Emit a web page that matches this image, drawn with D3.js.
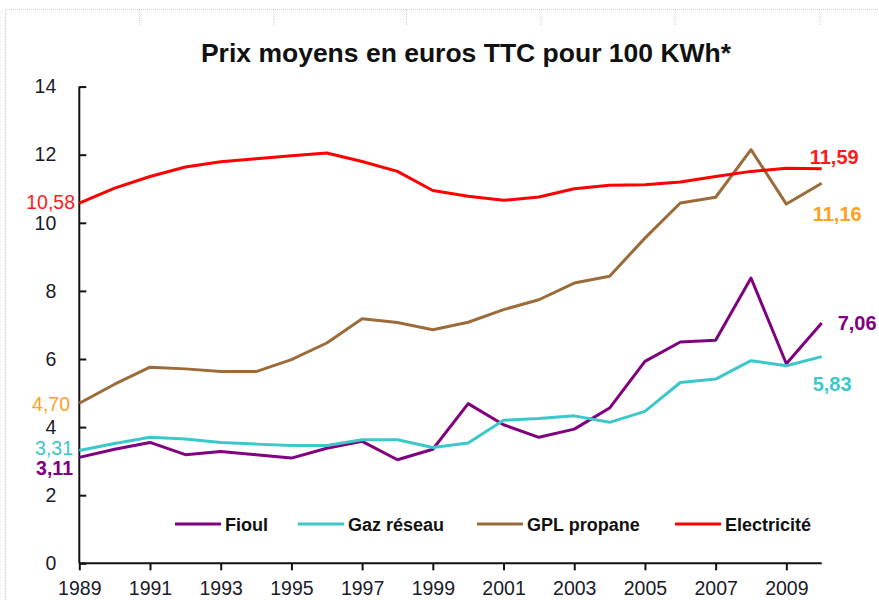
<!DOCTYPE html>
<html>
<head>
<meta charset="utf-8">
<script src="https://cdn.jsdelivr.net/npm/d3@7"></script>
<style>
  html, body { margin: 0; padding: 0; background: #fff; }
  svg { display: block; font-family: "Liberation Sans", Arial, sans-serif; }
</style>
</head>
<body>
<svg id="chart" width="879" height="600"></svg>
<script>
// ---- data ----
const years = [1989,1990,1991,1992,1993,1994,1995,1996,1997,1998,1999,2000,2001,2002,2003,2004,2005,2006,2007,2008,2009,2010];
const fioul = [3.11,3.35,3.55,3.19,3.28,3.19,3.09,3.38,3.58,3.04,3.35,4.69,4.07,3.70,3.94,4.56,5.93,6.50,6.55,8.38,5.86,7.06];
const gaz   = [3.31,3.52,3.70,3.65,3.55,3.50,3.46,3.46,3.63,3.63,3.40,3.53,4.20,4.25,4.33,4.14,4.46,5.31,5.41,5.95,5.80,6.07];
const gpl   = [4.70,5.26,5.76,5.71,5.63,5.63,5.98,6.47,7.18,7.07,6.86,7.08,7.45,7.74,8.23,8.43,9.55,10.58,10.75,12.15,10.55,11.16];
const elec  = [10.58,11.02,11.36,11.64,11.79,11.88,11.97,12.05,11.80,11.51,10.95,10.78,10.66,10.76,11.00,11.10,11.12,11.20,11.36,11.51,11.60,11.59];
const seriesNames = ["Fioul","Gaz réseau","GPL propane","Electricité"];
const xTickYears = [1989,1991,1993,1995,1997,1999,2001,2003,2005,2007,2009];
const yTicks = [0,2,4,6,8,10,12,14];
const startLabels = ["3,11","3,31","4,70","10,58"];
const endLabels = ["7,06","5,83","11,16","11,59"];
const title = "Prix moyens en euros TTC pour 100 KWh*";

// ---- styles ----
const lineColors = ["#800080","#3CC8C8","#9C6B3A","#FF0000"];
const labelColors = ["#800080","#3CC8C8","#FFA020","#FF1A1A"];
const series = [fioul, gaz, gpl, elec];

const svg = d3.select("#chart");

// frame decoration (dotted page border and ruler marks)
svg.append("line").attr("x1",5).attr("x2",879).attr("y1",9.5).attr("y2",9.5)
  .attr("stroke","#c4cde0").attr("stroke-width",1).attr("stroke-dasharray","1,1");
svg.append("line").attr("x1",5.5).attr("x2",5.5).attr("y1",9).attr("y2",600)
  .attr("stroke","#c4cde0").attr("stroke-width",1).attr("stroke-dasharray","1,1");
[139.5,274,406.5,541,675,820].forEach(x => {
  svg.append("line").attr("x1",x).attr("x2",x).attr("y1",10).attr("y2",25)
    .attr("stroke","#c4cde0").attr("stroke-width",1).attr("stroke-dasharray","1,1");
});

// scales
const x = d3.scaleLinear().domain([1989, 2010]).range([79.3, 821.7]);
const y = d3.scaleLinear().domain([0, 14]).range([563.3, 86.6]);

// title
svg.append("text").attr("x",466).attr("y",61.5).attr("text-anchor","middle")
  .attr("font-size","26.5px").attr("font-weight","bold").attr("fill","#111")
  .text(title);

// y axis
const yAxis = svg.append("g").attr("transform",`translate(${x(1989)},0)`)
  .call(d3.axisRight(y).tickValues(yTicks).tickSize(7).tickFormat(d3.format("d")));
yAxis.select(".domain").attr("stroke","#111").attr("stroke-width",2).attr("d",`M0,${y(14)}V${y(0)}`);
yAxis.selectAll(".tick line").attr("stroke","#111").attr("stroke-width",2);
yAxis.selectAll(".tick text").attr("x",-23).attr("text-anchor","end").attr("dy","0.32em")
  .attr("font-size","19.5px").attr("fill","#1a1a2a").attr("font-family","Liberation Sans, Arial, sans-serif");

// x axis
const xAxis = svg.append("g").attr("transform",`translate(0,${y(0)})`)
  .call(d3.axisBottom(x).tickValues(xTickYears).tickSize(7).tickFormat(d3.format("d")));
xAxis.select(".domain").attr("stroke","#111").attr("stroke-width",2).attr("d",`M${x(1989)},0H${x(2010)}`);
xAxis.selectAll(".tick line").attr("stroke","#111").attr("stroke-width",2);
xAxis.selectAll(".tick text").attr("y",18).attr("dy","0.71em")
  .attr("font-size","19.5px").attr("fill","#1a1a2a").attr("font-family","Liberation Sans, Arial, sans-serif");

// lines
const line = d3.line().x((d,i) => x(years[i])).y(d => y(d));
series.forEach((s, k) => {
  svg.append("path").datum(s).attr("d", line).attr("fill","none")
    .attr("stroke", lineColors[k]).attr("stroke-width", 3)
    .attr("stroke-linejoin","round").attr("stroke-linecap","butt");
});

// start labels (left of y axis)
const startOffsets = [[73,18,"bold"],[73,4,"normal"],[70,8,"normal"],[75,6,"normal"]];
series.forEach((s,k) => {
  svg.append("text").attr("x", startOffsets[k][0]).attr("y", y(s[0]) + startOffsets[k][1])
    .attr("text-anchor","end").attr("font-size","19.5px").attr("font-weight", startOffsets[k][2])
    .attr("fill", labelColors[k]).text(startLabels[k]);
});

// end labels (right of last point)
const endOffsets = [[16,7],[-9,34],[-9,38],[-12,-5]];
series.forEach((s,k) => {
  const last = s.length - 1;
  svg.append("text").attr("x", x(years[last]) + endOffsets[k][0]).attr("y", y(s[last]) + endOffsets[k][1])
    .attr("text-anchor","start").attr("font-size","20px").attr("font-weight","bold")
    .attr("fill", labelColors[k]).text(endLabels[k]);
});

// legend
const legendX = [175, 298, 477, 675];
const legendY = 524;
seriesNames.forEach((name, k) => {
  const g = svg.append("g");
  g.append("line").attr("x1", legendX[k]).attr("x2", legendX[k] + 46)
    .attr("y1", legendY).attr("y2", legendY).attr("stroke", lineColors[k]).attr("stroke-width", 3);
  g.append("text").attr("x", legendX[k] + 50).attr("y", legendY + 6.5)
    .attr("font-size","18px").attr("font-weight","bold").attr("fill","#111").text(name);
});
</script>
</body>
</html>
